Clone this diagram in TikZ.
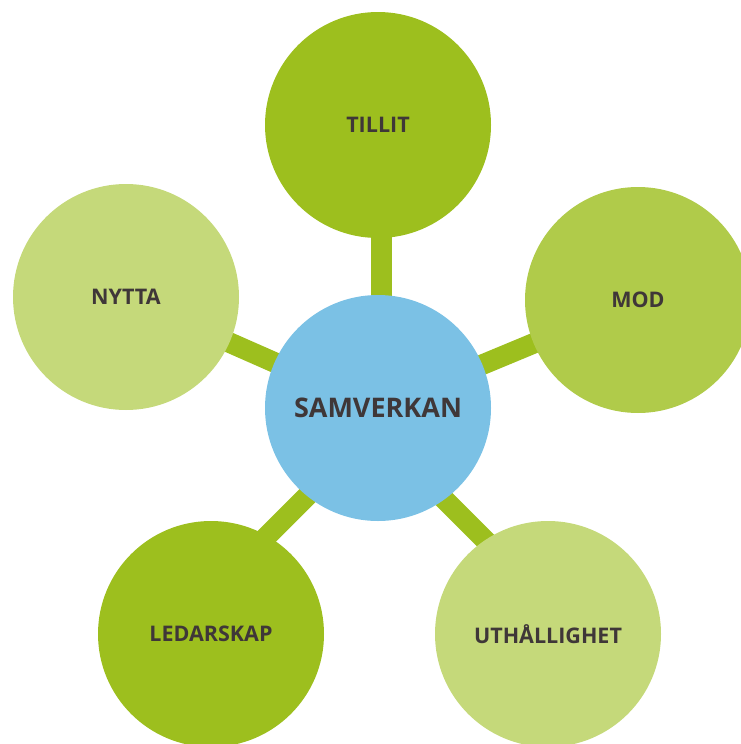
\documentclass[tikz,border=0pt]{standalone}
\usepackage{fontspec}
\setmainfont{Open Sans}
\usepackage{tikz}
\usetikzlibrary{positioning,backgrounds}

\definecolor{darkgreen}{HTML}{9DBF1E}
\definecolor{midgreen}{HTML}{B0CB4A}
\definecolor{lightgreen}{HTML}{C5D97A}
\definecolor{skyblue}{HTML}{7BC1E5}
\definecolor{textgray}{HTML}{3F3738}

\tikzset{
	value/.style={circle, inner sep=0pt, minimum size=226pt, text=textgray, font=\bfseries\fontsize{21.5}{24}\selectfont},
	core/.style={value, fill=skyblue, font=\bfseries\fontsize{27}{30}\selectfont},
	link/.style={line width=20.5pt, darkgreen}
}

\begin{document}
\begin{tikzpicture}[x=1pt, y=-1pt, on grid]
		\useasboundingbox (0,0) rectangle (741,744) ;
		% Center
		\node[core] (Samverkan) at (378,408) {SAMVERKAN} ;
		% Values
		\node[value, fill=darkgreen, above=283pt of Samverkan] (Tillit) {TILLIT} ;
		\node[value, fill=midgreen, above right=108pt and 260pt of Samverkan] (Mod) {MOD} ;
		\node[value, fill=lightgreen, above left=111pt and 252pt of Samverkan] (Nytta) {NYTTA} ;
		\node[value, fill=darkgreen, below left=226pt and 167pt of Samverkan] (Ledarskap) {LEDARSKAP} ;
		\node[value, fill=lightgreen, below right=226pt and 170pt of Samverkan] (Uthallighet) {UTHÅLLIGHET} ;
		% Links
		\begin{scope}[on background layer]
			\draw[link] ([xshift=3.5pt]Samverkan.center) -- ([xshift=3.5pt]Tillit.center) ;
			\draw[link] (Samverkan.center) -- (Mod.center) ;
			\draw[link] (Samverkan.center) -- (Nytta.center) ;
			\draw[link] ([shift={(8,9)}]Samverkan.center) -- ([shift={(-21,-21)}]Ledarskap.center) ;
			\draw[link] ([shift={(-12,13)}]Samverkan.center) -- ([shift={(15,-16)}]Uthallighet.center) ;
		\end{scope}
	\end{tikzpicture}
\end{document}
